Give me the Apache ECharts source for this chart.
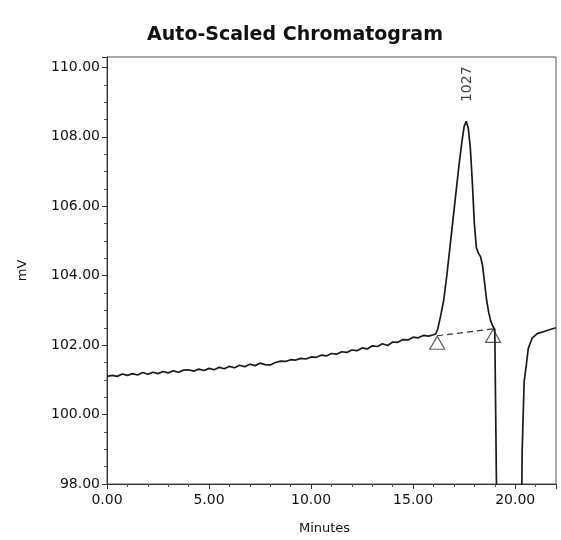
<!DOCTYPE html>
<html>
<head>
<meta charset="utf-8">
<script src="https://cdn.jsdelivr.net/npm/echarts@6/dist/echarts.min.js"></script>
<style>html,body{margin:0;padding:0;background:#fff;}#c{width:561px;height:540px;}</style>
</head>
<body>
<div id="c"></div>
<script>
// Baseline region (minutes, mV)
const baseTimes = [0,0.25,0.5,0.75,1,1.25,1.5,1.75,2,2.25,2.5,2.75,3,3.25,3.5,3.75,4,4.25,4.5,4.75,5,5.25,5.5,5.75,6,6.25,6.5,6.75,7,7.25,7.5,7.75,8,8.25,8.5,8.75,9,9.25,9.5,9.75,10,10.25,10.5,10.75,11,11.25,11.5,11.75,12,12.25,12.5,12.75,13,13.25,13.5,13.75,14,14.25,14.5,14.75,15,15.25,15.5,15.75,16];
const baseValues = [101.10,101.13,101.10,101.17,101.13,101.18,101.14,101.21,101.16,101.22,101.18,101.24,101.20,101.26,101.22,101.28,101.29,101.25,101.31,101.27,101.33,101.29,101.36,101.32,101.39,101.35,101.42,101.38,101.45,101.41,101.48,101.44,101.43,101.50,101.54,101.53,101.58,101.57,101.62,101.60,101.66,101.65,101.71,101.69,101.76,101.74,101.81,101.79,101.86,101.84,101.92,101.89,101.98,101.96,102.04,101.99,102.09,102.08,102.16,102.15,102.23,102.21,102.28,102.26,102.30];
// Peak and tail region
const peakTimes = [16.1,16.2,16.35,16.5,16.65,16.8,16.95,17.1,17.25,17.4,17.5,17.6,17.7,17.8,17.9,18.0,18.1,18.2,18.3,18.4,18.5,18.6,18.7,18.8,18.9,19.0,19.08,19.12,20.3,20.34,20.44,20.54,20.64,20.83,21.08,21.56,22.0];
const peakValues = [102.32,102.45,102.85,103.3,104.0,104.8,105.6,106.4,107.2,107.9,108.3,108.45,108.25,107.7,106.7,105.5,104.8,104.65,104.55,104.3,103.8,103.3,102.95,102.7,102.55,102.45,102.4,96,96,98.9,100.96,101.4,101.9,102.2,102.33,102.42,102.5];
// Integration baseline markers
const markTimes = [16.18, 18.92];
const markValues = [102.27, 102.47];
// Peak label
const peakLabelTime = 17.6;
const peakLabelValue = 108.45;
const peakLabelText = '1027';

const xTicks = { min: 0, max: 22, interval: 5 };
const yTicks = { min: 98, max: 110.3, interval: 2 };

const signal = baseTimes.map((t,i)=>[t, baseValues[i]]).concat(peakTimes.map((t,i)=>[t, peakValues[i]]));
const marks = markTimes.map((t,i)=>[t, markValues[i]]);

const chart = echarts.init(document.getElementById('c'), null, {renderer:'canvas'});
const ink = '#1a1a1a';
chart.setOption({
  animation: false,
  backgroundColor: '#fff',
  title: {
    text: 'Auto-Scaled Chromatogram',
    left: 290, top: 21, textAlign: 'center',
    textStyle: { fontFamily: 'DejaVu Sans', fontWeight: 'bold', fontSize: 19, color: '#111' }
  },
  grid: { left: 107, right: 5, top: 57, bottom: 53, show: true, borderColor: '#555', borderWidth: 1 },
  xAxis: {
    type: 'value', min: xTicks.min, max: xTicks.max, interval: xTicks.interval,
    name: 'Minutes', nameLocation: 'middle', nameGap: 38,
    nameTextStyle: { fontFamily: 'DejaVu Sans', fontSize: 13, color: '#111', padding: [0, 14, 0, 0] },
    axisLine: { lineStyle: { color: '#333', width: 1 } },
    axisTick: { length: 5, lineStyle: { color: '#333' } },
    minorTick: { show: true, splitNumber: 5, length: 3, lineStyle: { color: '#555' } },
    splitLine: { show: false },
    axisLabel: { showMaxLabel: false, margin: 9, fontFamily: 'DejaVu Sans', fontSize: 14, color: '#111', formatter: v => v.toFixed(2) }
  },
  yAxis: {
    type: 'value', min: yTicks.min, max: yTicks.max, interval: yTicks.interval,
    name: 'mV', nameLocation: 'middle', nameGap: 78, nameRotate: 90,
    nameTextStyle: { fontFamily: 'DejaVu Sans', fontSize: 13, color: '#111' },
    axisLine: { show: true, lineStyle: { color: '#333', width: 1 } },
    axisTick: { show: true, length: 5, lineStyle: { color: '#333' } },
    minorTick: { show: true, splitNumber: 4, length: 3, lineStyle: { color: '#555' } },
    splitLine: { show: false },
    axisLabel: { showMaxLabel: false, margin: 7, fontFamily: 'DejaVu Sans', fontSize: 14, color: '#111', formatter: v => v.toFixed(2) }
  },
  series: [
    {
      type: 'line', data: signal, showSymbol: false, clip: true,
      lineStyle: { color: ink, width: 1.7 }
    },
    {
      type: 'line', data: marks, showSymbol: false,
      lineStyle: { color: '#333', width: 1.2, type: [6, 4] }
    },
    {
      type: 'scatter', data: marks, symbol: 'triangle', symbolSize: [15, 13], symbolOffset: [0, 7],
      itemStyle: { color: 'rgba(255,255,255,0)', borderColor: '#333', borderWidth: 1.2 }
    },
    {
      type: 'scatter', data: [[peakLabelTime, peakLabelValue]], symbolSize: 0,
      label: { show: true, position: 'inside', offset: [37, 1], rotate: 90, formatter: peakLabelText,
        fontFamily: 'DejaVu Sans', fontSize: 14, color: '#111' }
    }
  ]
});
</script>
</body>
</html>
